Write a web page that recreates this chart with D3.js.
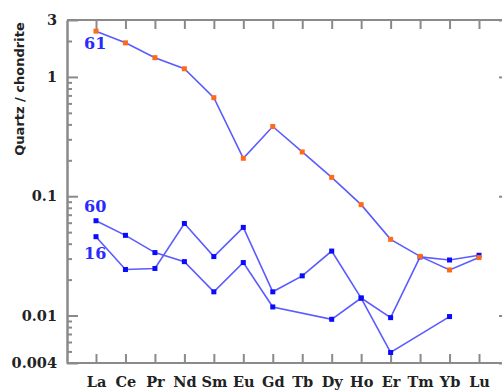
<!DOCTYPE html>
<html><head><meta charset="utf-8">
<script src="https://cdn.jsdelivr.net/npm/d3@7"></script>
<style>body{margin:0;background:#fff}svg{display:block}</style>
</head><body>
<svg id="c" width="502" height="392"></svg>
<script>
const categories = ["La","Ce","Pr","Nd","Sm","Eu","Gd","Tb","Dy","Ho","Er","Tm","Yb","Lu"];
const series61 = [2.42,1.93,1.45,1.17,0.67,0.208,0.384,0.235,0.144,0.085,0.0435,0.0313,0.0241,0.0306];
const series60 = [0.0623,0.047,0.0337,0.0283,0.0158,0.0278,0.0118,null,0.0093,0.014,0.0096,0.031,0.0292,0.032];
const series16 = [0.0458,0.0243,0.0248,0.0591,0.0312,0.0548,0.0158,0.0215,0.0347,0.014,0.0049,null,0.0098,null];
const seriesNames = ["16","60","61"];
const yTickValues = [3,1,0.1,0.01,0.004];
const yTickLabels = ["3","1","0.1","0.01","0.004"];
const yMinorTicks = [2,0.9,0.8,0.7,0.6,0.5,0.4,0.3,0.2,0.09,0.08,0.07,0.06,0.05,0.04,0.03,0.02,0.009,0.008,0.007,0.006,0.005];

const svg = d3.select("#c");
const L = 67, R = 510, T = 20, B = 363;
const x = d3.scalePoint().domain(categories).range([96, 479]);
const y = d3.scaleLog().domain([0.004, 3]).range([B, T]);

const axisColor = "#8a8a8a";
function style(g){
  g.select(".domain").attr("stroke", axisColor).attr("stroke-width", 2);
  g.selectAll(".tick line").attr("stroke", axisColor).attr("stroke-width", 2);
  g.selectAll(".tick text").attr("fill","#222").attr("font-family","DejaVu Serif").attr("font-weight","bold").attr("font-size","14.5px");
}

// minor ticks left
svg.append("g").attr("transform",`translate(${L},0)`)
  .call(d3.axisLeft(y).tickValues(yMinorTicks).tickSize(-5).tickSizeOuter(0).tickFormat(""))
  .call(style);
// major left
svg.append("g").attr("transform",`translate(${L},0)`)
  .call(d3.axisLeft(y).tickValues(yTickValues).tickSize(-11).tickSizeOuter(0).tickPadding(10)
    .tickFormat((d,i)=>yTickLabels[i]))
  .call(style);
// right axis
svg.append("g").attr("transform",`translate(${R},0)`)
  .call(d3.axisRight(y).tickValues(yTickValues).tickSize(-11).tickSizeOuter(0).tickFormat(""))
  .call(style);
svg.append("g").attr("transform",`translate(${R},0)`)
  .call(d3.axisRight(y).tickValues(yMinorTicks).tickSize(-5).tickSizeOuter(0).tickFormat(""))
  .call(style);

// top axis
svg.append("g").attr("transform",`translate(0,${T})`)
  .call(d3.axisTop(x).tickSize(-9).tickSizeOuter(0).tickFormat(""))
  .call(g=>g.select(".domain").attr("d",`M${L},0H${R}`))
  .call(style);
// bottom axis
svg.append("g").attr("transform",`translate(0,${B})`)
  .call(d3.axisBottom(x).tickSize(-9).tickSizeOuter(0).tickPadding(14))
  .call(g=>g.select(".domain").attr("d",`M${L},0H${R}`))
  .call(style)
  .call(g=>g.selectAll(".tick text").attr("font-size","14.5px"));

// y title
svg.append("text")
  .attr("transform","translate(24,89) rotate(-90)")
  .attr("text-anchor","middle")
  .attr("font-family","DejaVu Sans").attr("font-weight","bold").attr("font-size","13px")
  .attr("fill","#222").text("Quartz / chondrite");

const lineColor = "#5b5bff";
const allSeries = [
  {name:"16", values:series16, marker:"#0a0aff"},
  {name:"60", values:series60, marker:"#0a0aff"},
  {name:"61", values:series61, marker:"#ff6a1a"}
];
const line = d3.line().x(d=>x(d.c)).y(d=>y(d.v));
allSeries.forEach(s=>{
  const pts = categories.map((c,i)=>({c, v:s.values[i]})).filter(d=>d.v!=null);
  svg.append("path").datum(pts).attr("d",line).attr("fill","none")
    .attr("stroke",lineColor).attr("stroke-width",1.6);
  svg.append("g").selectAll("rect").data(pts).join("rect")
    .attr("x",d=>x(d.c)-2.5).attr("y",d=>y(d.v)-2.5)
    .attr("width",5).attr("height",5).attr("fill",s.marker);
});

// series labels
const labelPos = {"61":[series61[0], 18], "60":[series60[0], -9], "16":[series16[0], 22]};
seriesNames.forEach(n=>{
  const [v, dy] = labelPos[n];
  svg.append("text").attr("x", x(categories[0]) - 12).attr("y", y(v) + dy)
    .attr("font-family","DejaVu Serif").attr("font-weight","bold").attr("font-size","16px")
    .attr("fill","#2a2aff").text(n);
});
</script>
</body></html>
